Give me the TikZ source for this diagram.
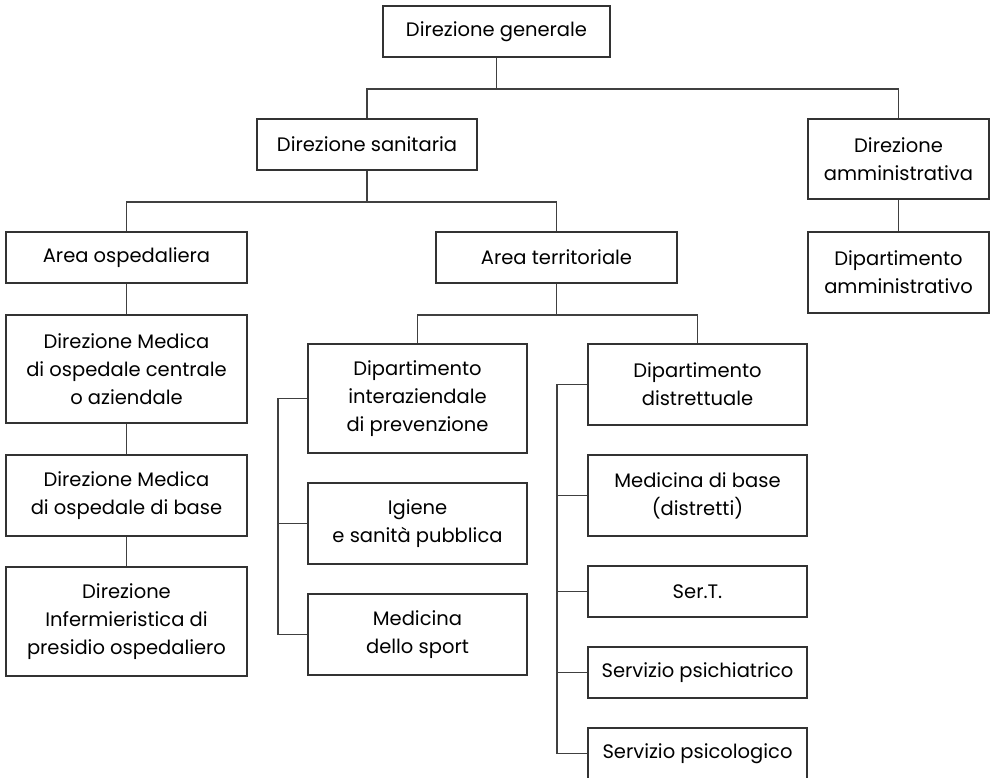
\documentclass[tikz,border=0pt]{standalone}
\usepackage{fontspec}
\setmainfont{Poppins}
\begin{document}
\begin{tikzpicture}[x=1pt,y=-1pt,
  box/.style={draw=black!80, line width=1.2pt, inner sep=0pt, align=center,
    font=\fontsize{19.5}{28}\selectfont, text=black},
  link/.style={draw=black!75, line width=1.2pt}]
\clip (0,0) rectangle (995,777);
\fill[white] (0,0) rectangle (995,777);
% top levels
\node[box, minimum width=227pt, minimum height=51pt] (dg) at (496.5,31.5) {Direzione generale};
\node[box, minimum width=220pt, minimum height=51pt] (ds) at (367,144.5) {Direzione sanitaria};
\node[box, minimum width=181pt, minimum height=80pt] (da) at (898.5,159) {Direzione\\amministrativa};
\node[box, minimum width=181pt, minimum height=81pt] (dpa) at (898.5,272.5) {Dipartimento\\amministrativo};
\node[box, minimum width=241pt, minimum height=51pt] (ao) at (126.5,257.5) {Area ospedaliera};
\node[box, minimum width=241pt, minimum height=51pt] (at) at (556.5,257.5) {Area territoriale};
% hospital column
\node[box, minimum width=241pt, minimum height=108pt] (dmc) at (126.5,369) {Direzione Medica\\di ospedale centrale\\o aziendale};
\node[box, minimum width=241pt, minimum height=81pt] (dmb) at (126.5,495.5) {Direzione Medica\\di ospedale di base};
\node[box, minimum width=241pt, minimum height=109pt] (dis) at (126.5,621.5) {Direzione\\Infermieristica di\\presidio ospedaliero};
% prevention column
\node[box, minimum width=219pt, minimum height=109pt] (dip) at (417.5,398.5) {Dipartimento\\interaziendale\\di prevenzione};
\node[box, minimum width=219pt, minimum height=81pt] (ig) at (417.5,523.5) {Igiene\\e sanità pubblica};
\node[box, minimum width=219pt, minimum height=81pt] (ms) at (417.5,634.5) {Medicina\\dello sport};
% district column
\node[box, minimum width=219pt, minimum height=81pt] (dd) at (697.5,384.5) {Dipartimento\\distrettuale};
\node[box, minimum width=219pt, minimum height=81pt] (mb) at (697.5,495.5) {Medicina di base\\(distretti)};
\node[box, minimum width=219pt, minimum height=51pt] (st) at (697.5,591.5) {Ser.T.};
\node[box, minimum width=219pt, minimum height=51pt] (sp) at (697.5,672.5) {Servizio psichiatrico};
\node[box, minimum width=219pt, minimum height=51pt] (sps) at (697.5,753.5) {Servizio psicologico};
% junctions
\coordinate (j1) at (496.5,89);
\coordinate (j2) at (367,202);
\coordinate (j3) at (556.5,315);
\coordinate (b1) at (278,0);
\coordinate (b2) at (557,0);
% connectors
\draw[link] (dg.south) -- (j1);
\draw[link] (ds.north) |- (j1) -| (da.north);
\draw[link] (da.south) -- (dpa.north);
\draw[link] (ds.south) -- (j2);
\draw[link] (ao.north) |- (j2) -| (at.north);
\draw[link] (ao.south) -- (dmc.north);
\draw[link] (dmc.south) -- (dmb.north);
\draw[link] (dmb.south) -- (dis.north);
\draw[link] (at.south) -- (j3);
\draw[link] (dip.north) |- (j3) -| (dd.north);
\draw[link] (dip.west) -- (dip.west -| b1) |- (ms.west);
\draw[link] (ig.west) -- (ig.west -| b1);
\draw[link] (dd.west) -- (dd.west -| b2) |- (sps.west);
\draw[link] (mb.west) -- (mb.west -| b2);
\draw[link] (st.west) -- (st.west -| b2);
\draw[link] (sp.west) -- (sp.west -| b2);
\end{tikzpicture}
\end{document}
